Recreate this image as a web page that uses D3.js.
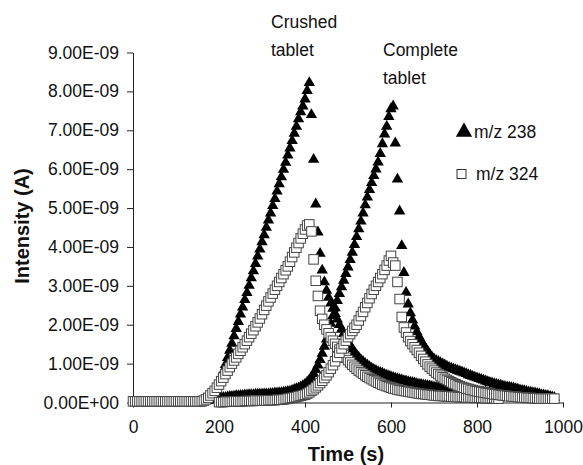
<!DOCTYPE html>
<html>
<head>
<meta charset="utf-8">
<script src="https://cdn.jsdelivr.net/npm/d3@7"></script>
<style>
  body { margin: 0; background: #fff; }
  svg text { font-family: "Liberation Sans", Arial, Helvetica, sans-serif; fill: #111; }
</style>
</head>
<body>
<svg id="chart" width="583" height="465"></svg>
<script>
// ---- Data (intensity in units of 1e-9 A, sampled every 5 s) ----
const sampleStep = 5;

// Crushed tablet, m/z 238 (triangles), first sample at 170 s
const crushed238Start = 170;
const crushed238 = [
  0.05,0.12,0.20,0.27,0.34,0.42,0.50,0.62,0.80,0.97,
  1.15,1.34,1.52,1.71,1.90,2.08,2.27,2.45,2.64,2.82,
  3.01,3.20,3.38,3.57,3.76,3.94,4.13,4.31,4.50,4.69,
  4.87,5.06,5.24,5.43,5.62,5.80,5.99,6.17,6.36,6.54,
  6.73,6.92,7.10,7.29,7.47,7.62,7.80,8.02,8.22,
  7.40,6.25,5.10,4.38,3.83,3.40,
  3.10,2.88,2.70,2.55,2.42,2.28,2.14,2.00,1.88,1.77,
  1.66,1.56,1.47,1.38,1.30,1.22,1.16,1.10,1.05,1.00,
  0.96,0.92,0.88,0.85,0.82,0.79,0.77,0.75,0.72,0.70,
  0.68,0.66,0.64,0.62,0.61,0.59,0.58,0.56,0.55,0.53,
  0.52,0.51,0.50,0.48,0.47,0.46,0.45,0.44,0.43,0.42,
  0.41,0.40,0.39,0.38,0.37,0.37,0.36,0.35,0.35,0.34,
  0.34,0.33,0.32,0.32,0.31,0.31,0.30,0.30,0.29,0.29,
  0.28,0.28,0.27,0.27,0.26,0.26,0.25,0.25,0.24,0.24,
  0.23,0.23
];

// Crushed tablet, m/z 324 (squares), first sample at 0 s
const crushed324Start = 0;
const crushed324 = [
  0.03,0.03,0.03,0.03,0.03,0.03,0.03,0.03,0.03,0.03,
  0.03,0.03,0.03,0.03,0.03,0.03,0.03,0.03,0.03,0.03,
  0.03,0.03,0.03,0.03,0.03,0.03,0.03,0.03,0.03,0.03,
  0.03,0.03,0.03,
  0.05,0.08,0.12,0.18,0.24,0.30,0.38,0.46,0.55,0.64,
  0.73,0.82,0.91,1.00,1.08,1.16,1.25,1.33,1.42,1.50,
  1.59,1.68,1.77,1.86,1.96,2.06,2.16,2.27,2.38,2.49,
  2.60,2.70,2.80,2.90,3.00,3.10,3.20,3.30,3.40,3.50,
  3.62,3.74,3.86,3.98,4.10,4.22,4.34,4.45,4.55,4.58,
  4.40,3.68,3.13,2.74,2.36,2.15,2.00,1.88,1.78,1.68,
  1.59,1.51,1.43,1.36,1.29,1.22,1.15,1.09,1.03,0.97,
  0.92,0.87,0.82,0.78,0.74,0.70,0.66,0.63,0.60,0.57,
  0.54,0.51,0.49,0.46,0.44,0.42,0.40,0.38,0.36,0.35,
  0.33,0.32,0.31,0.30,0.29,0.28,0.27,0.26,0.25,0.24,
  0.23,0.22,0.22,0.21,0.20,0.20,0.19,0.18,0.18,0.17,
  0.17,0.17,0.16,0.16,0.16,0.15,0.15,0.15,0.14,0.14,
  0.14,0.14,0.13,0.13,0.13,0.13,0.12,0.12,0.12,0.12,
  0.12,0.11,0.11,0.11,0.11,0.11,0.10,0.10
];

// Complete tablet, m/z 238 (triangles), first sample at 175 s
const complete238Start = 175;
const complete238 = [
  0.05,0.07,0.08,0.09,0.10,0.11,0.12,0.13,0.13,0.14,
  0.15,0.15,0.16,0.17,0.17,0.18,0.18,0.19,0.19,0.20,
  0.20,0.20,0.21,0.21,0.21,
  0.21,0.22,0.22,0.22,0.23,0.23,0.24,0.24,0.25,0.25,
  0.26,0.27,0.28,0.29,0.31,0.33,0.35,0.37,0.40,0.43,
  0.47,0.52,0.58,0.65,0.74,0.84,0.96,1.10,1.26,1.44,
  1.63,1.83,2.03,2.23,2.43,2.62,2.80,2.97,3.14,3.31,
  3.48,3.67,3.86,4.06,4.26,4.46,4.66,4.87,5.08,5.28,
  5.47,5.65,5.83,6.00,6.18,6.40,6.65,6.90,7.10,7.35,
  7.55,7.62,6.67,5.74,4.92,4.03,3.34,2.83,2.53,2.30,
  2.12,1.96,1.82,1.70,1.59,1.49,1.40,1.32,1.24,1.17,
  1.12,1.08,1.05,1.02,0.99,0.96,0.93,0.90,0.88,0.86,
  0.84,0.82,0.80,0.78,0.76,0.74,0.71,0.69,0.67,0.65,
  0.63,0.61,0.59,0.57,0.55,0.53,0.51,0.50,0.48,0.47,
  0.45,0.44,0.42,0.41,0.40,0.39,0.38,0.37,0.35,0.34,
  0.32,0.31,0.30,0.28,0.27,0.26,0.25,0.24,0.23,0.22,
  0.20,0.19,0.18,0.17,0.15,0.14,0.13
];

// Complete tablet, m/z 324 (squares), first sample at 200 s
const complete324Start = 200;
const complete324 = [
  0.01,0.01,0.01,0.02,0.02,0.02,0.02,0.03,0.03,0.03,
  0.03,0.03,0.04,0.04,0.04,0.04,0.04,0.05,0.05,0.05,
  0.05,0.05,0.05,0.06,0.06,0.06,0.06,0.07,0.07,0.07,
  0.08,0.09,0.10,0.11,0.12,0.13,0.14,0.16,0.17,0.19,
  0.20,0.23,0.26,0.30,0.34,0.39,0.44,0.50,0.56,0.63,
  0.70,0.78,0.87,0.96,1.06,1.17,1.28,1.39,1.50,1.59,
  1.68,1.76,1.84,1.92,2.00,2.11,2.22,2.33,2.45,2.56,
  2.68,2.79,2.90,3.00,3.10,3.20,3.30,3.41,3.52,3.65,
  3.77,3.60,3.52,3.10,2.66,2.20,1.93,1.80,1.68,1.58,
  1.50,1.42,1.35,1.28,1.20,1.12,1.05,0.98,0.92,0.87,
  0.82,0.77,0.73,0.69,0.65,0.61,0.58,0.55,0.52,0.49,
  0.47,0.44,0.42,0.40,0.38,0.36,0.35,0.33,0.32,0.30,
  0.29,0.28,0.27,0.26,0.25,0.24,0.23,0.22,0.21,0.21,
  0.20,0.19,0.18,0.18,0.17,0.16,0.16,0.15,0.15,0.14,
  0.14,0.13,0.13,0.12,0.12,0.12,0.11,0.11,0.11,0.10,
  0.10,0.10,0.10,0.10,0.10,0.10,0.10
];

const xTicks = [0, 200, 400, 600, 800, 1000];
const yTicks = [0, 1, 2, 3, 4, 5, 6, 7, 8, 9]; // x 1e-9
const yTickLabels = ["0.00E+00","1.00E-09","2.00E-09","3.00E-09","4.00E-09",
                     "5.00E-09","6.00E-09","7.00E-09","8.00E-09","9.00E-09"];
const xTitle = "Time (s)";
const yTitle = "Intensity (A)";
const legendLabels = ["m/z 238", "m/z 324"];
const annotations = [
  { lines: ["Crushed", "tablet"] },
  { lines: ["Complete", "tablet"] }
];

// ---- Build points ----
function toPoints(start, vals) {
  return vals.map((v, i) => ({ t: start + i * sampleStep, v: v }));
}
const triSeries = [toPoints(crushed238Start, crushed238), toPoints(complete238Start, complete238)];
const sqSeries  = [toPoints(crushed324Start, crushed324), toPoints(complete324Start, complete324)];

// ---- Layout ----
const W = 583, H = 465;
const m = { left: 133, right: 20, top: 52.5, bottom: 62.5 };
const svg = d3.select("#chart");

const x = d3.scaleLinear().domain([0, 1000]).range([m.left, W - m.right]);
const y = d3.scaleLinear().domain([0, 9]).range([H - m.bottom, m.top]);

// Axes
const xAxis = d3.axisBottom(x).tickValues(xTicks).tickSize(5).tickSizeOuter(0).tickPadding(13)
  .tickFormat(d3.format("d"));
const yAxis = d3.axisLeft(y).tickValues(yTicks).tickSize(6).tickSizeOuter(0).tickPadding(8)
  .tickFormat(d => yTickLabels[yTicks.indexOf(d)]);

const gx = svg.append("g").attr("transform", `translate(0,${y(0)})`).call(xAxis);
const gy = svg.append("g").attr("transform", `translate(${x(0)},0)`).call(yAxis);
[gx, gy].forEach(g => {
  g.selectAll("path, line").attr("stroke", "#222").attr("stroke-width", 1);
  g.selectAll("text").style("font-size", "17.5px").attr("fill", "#111");
});

// Titles
svg.append("text").attr("x", 346).attr("y", 461).attr("text-anchor", "middle")
  .style("font-size", "20px").style("font-weight", "bold").text(xTitle);
svg.append("text").attr("transform", "translate(29,226) rotate(-90)")
  .attr("text-anchor", "middle").style("font-size", "20px").style("font-weight", "bold").text(yTitle);

// Markers
const triPath = d3.symbol().type(d3.symbolTriangle).size(56)();
const sqSize = 9.5;

const plot = svg.append("g");
triSeries.forEach(pts => {
  plot.append("g").selectAll("path").data(pts).join("path")
    .attr("d", triPath)
    .attr("transform", d => `translate(${x(d.t)},${y(d.v)})`)
    .attr("fill", "#000");
});
sqSeries.forEach(pts => {
  plot.append("g").selectAll("rect").data(pts).join("rect")
    .attr("x", d => x(d.t) - sqSize / 2)
    .attr("y", d => y(d.v) - sqSize / 2)
    .attr("width", sqSize).attr("height", sqSize)
    .attr("fill", "#fff").attr("stroke", "#444").attr("stroke-width", 1);
});

// Annotations
const annPos = [{ x: 271, y: 28 }, { x: 383, y: 56 }];
annotations.forEach((a, i) => {
  a.lines.forEach((ln, j) => {
    svg.append("text").attr("x", annPos[i].x).attr("y", annPos[i].y + j * 27.5)
      .style("font-size", "17.5px").text(ln);
  });
});

// Legend
const lg = svg.append("g");
lg.append("path").attr("d", d3.symbol().type(d3.symbolTriangle).size(115)())
  .attr("transform", "translate(464,132)").attr("fill", "#000");
lg.append("text").attr("x", 474).attr("y", 137.5).style("font-size", "17.5px").text(legendLabels[0]);
lg.append("rect").attr("x", 457).attr("y", 169.5).attr("width", 9).attr("height", 9)
  .attr("fill", "#fff").attr("stroke", "#333").attr("stroke-width", 1);
lg.append("text").attr("x", 476).attr("y", 180).style("font-size", "17.5px").text(legendLabels[1]);
</script>
</body>
</html>
